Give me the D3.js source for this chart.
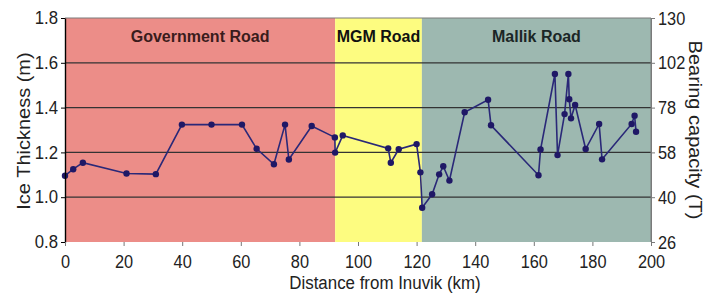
<!DOCTYPE html>
<html><head><meta charset="utf-8">
<script src="https://cdn.jsdelivr.net/npm/d3@7"></script>
<style>body{margin:0;background:#fff} svg{display:block;font-family:"Liberation Sans",Arial,sans-serif}</style>
</head><body><svg id="c" width="719" height="293"></svg>
<script>
// ---- data ----
const distanceKm = [0, 2.8, 6.1, 21, 31, 39.9, 50, 60.4, 65.4, 71.3, 75.1, 76.4, 84.2, 92.1, 92.2, 94.8,
  110.3, 111.2, 113.9, 120, 121.3, 121.9, 125.3, 127.7, 129.1, 131.2, 136.4, 144.4, 145.4,
  161.6, 162.3, 167.2, 168.1, 170.5, 171.8, 172.1, 172.7, 174.1, 177.7, 182.3, 183.3, 193.4, 194.4, 194.9];
const iceThickness = [1.096, 1.125, 1.154, 1.106, 1.103, 1.324, 1.324, 1.324, 1.216, 1.147, 1.324, 1.168, 1.318, 1.267, 1.199, 1.276,
  1.218, 1.154, 1.214, 1.237, 1.111, 0.953, 1.013, 1.102, 1.138, 1.074, 1.379, 1.435, 1.321,
  1.098, 1.213, 1.55, 1.188, 1.371, 1.55, 1.437, 1.352, 1.412, 1.215, 1.327, 1.169, 1.327, 1.364, 1.292];
const thicknessTicks = [0.8, 1.0, 1.2, 1.4, 1.6, 1.8];
const bearingLabels = ["26", "40", "58", "78", "102", "130"];
const distanceTicks = [0, 20, 40, 60, 80, 100, 120, 140, 160, 180, 200];
const roadNames = ["Government Road", "MGM Road", "Mallik Road"];
const roadStart = [0, 92.2, 121.8];
const roadEnd = [92.2, 121.8, 200];

// ---- styles ----
const roadFill = ["#ec8d88", "#fdfc80", "#9db8b0"];
const roadText = ["#3a1c1c", "#111", "#1b2626"];

const svg = d3.select("#c");
const x = d3.scaleLinear().domain([0, 200]).range([65, 651]);
const y = d3.scaleLinear().domain([0.8, 1.8]).range([242, 18]);

// road bands
svg.append("g").selectAll("rect").data(roadNames).join("rect")
  .attr("x", (d, i) => x(roadStart[i]))
  .attr("width", (d, i) => x(roadEnd[i]) - x(roadStart[i]))
  .attr("y", y(1.8)).attr("height", y(0.8) - y(1.8))
  .attr("fill", (d, i) => roadFill[i]);

// gridlines
svg.append("g").selectAll("line").data(thicknessTicks.filter(t => t > 0.8 && t < 1.8)).join("line")
  .attr("x1", x(0)).attr("x2", x(200))
  .attr("y1", d => y(d)).attr("y2", d => y(d))
  .attr("stroke", "#333").attr("stroke-width", 1.3);

// border top/right
svg.append("path")
  .attr("d", `M${x(0)},${y(1.8)}H${x(200)}V${y(0.8)}`)
  .attr("fill", "none").attr("stroke", "#7a7a7a").attr("stroke-width", 1);

// road labels
svg.append("g").selectAll("text").data(roadNames).join("text")
  .attr("x", (d, i) => (x(roadStart[i]) + x(roadEnd[i])) / 2)
  .attr("y", 42)
  .attr("text-anchor", "middle")
  .attr("font-weight", "bold").attr("font-size", 16)
  .attr("fill", (d, i) => roadText[i])
  .text(d => d);

// line + markers
const pts = distanceKm.map((d, i) => [d, iceThickness[i]]);
svg.append("path").datum(pts)
  .attr("d", d3.line().x(d => x(d[0])).y(d => y(d[1])))
  .attr("fill", "none").attr("stroke", "#2a2878").attr("stroke-width", 1.6);
svg.append("g").selectAll("circle").data(pts).join("circle")
  .attr("cx", d => x(d[0])).attr("cy", d => y(d[1])).attr("r", 3.2)
  .attr("fill", "#1f1866");

// axes
const fmtL = d3.format(".1f");
const gL = svg.append("g").attr("transform", `translate(${x(0)},0)`)
  .call(d3.axisLeft(y).tickValues(thicknessTicks).tickFormat(fmtL).tickSize(4).tickSizeOuter(0));
gL.select(".domain").attr("stroke", "#000").attr("stroke-width", 1.4);
gL.selectAll(".tick line").attr("stroke", "#000");
gL.selectAll(".tick text").attr("font-size", 18).attr("fill", "#222")
  .attr("font-family", null)
  .attr("x", -7 / 0.93).attr("transform", "scale(0.93,1)");

const gR = svg.append("g").attr("transform", `translate(${x(200)},0)`)
  .call(d3.axisRight(y).tickValues(thicknessTicks).tickFormat((d, i) => bearingLabels[i]).tickSize(4).tickSizeOuter(0));
gR.select(".domain").attr("stroke", "#7a7a7a");
gR.selectAll(".tick line").attr("stroke", "#7a7a7a");
gR.selectAll(".tick text").attr("font-size", 19).attr("fill", "#222")
  .attr("font-family", null)
  .attr("x", 7 / 0.86).attr("transform", "scale(0.86,1)");

const gB = svg.append("g").attr("transform", `translate(0,${y(0.8)})`)
  .call(d3.axisBottom(x).tickValues(distanceTicks).tickFormat(d3.format("d")).tickSize(4).tickSizeOuter(0));
gB.select(".domain").attr("stroke", "none");
gB.selectAll(".tick line").attr("stroke", "#777");
gB.selectAll(".tick text").attr("font-size", 19).attr("fill", "#222")
  .attr("font-family", null)
  .attr("y", 13).attr("transform", "scale(0.86,1)");

// axis titles
svg.append("text").attr("transform", "translate(385,289) scale(0.89,1)")
  .attr("text-anchor", "middle").attr("font-size", 19).attr("fill", "#222")
  .text("Distance from Inuvik (km)");
svg.append("text").attr("transform", "translate(30,131) scale(0.88,1) rotate(-90)")
  .attr("text-anchor", "middle").attr("font-size", 20).attr("fill", "#222")
  .text("Ice Thickness (m)");
svg.append("text").attr("transform", "translate(689,130) scale(0.88,1) rotate(90)")
  .attr("text-anchor", "middle").attr("font-size", 20).attr("fill", "#222")
  .text("Bearing capacity (T)");
</script></body></html>
